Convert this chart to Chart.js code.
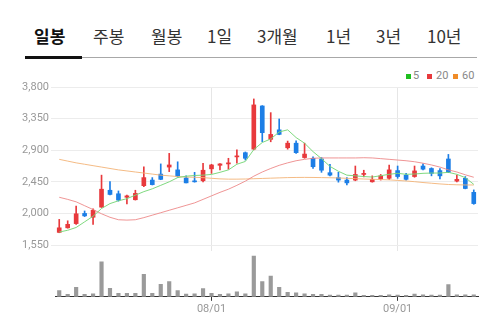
<!DOCTYPE html>
<html lang="ko">
<head>
<meta charset="utf-8">
<script src="https://cdn.jsdelivr.net/npm/chart.js@4.4.0/dist/chart.umd.min.js"></script>
<style>
  body { margin: 0; background: #fff; }
  #wrap { position: relative; width: 500px; height: 318px; overflow: hidden; font-family: 'Noto Sans CJK KR', 'Noto Sans', sans-serif; }
  .tab { position: absolute; top: 25px; font-size: 17px; line-height: 22px; color: #333; white-space: nowrap; }
  .tab.on { font-weight: bold; color: #111; }
  #tabLine { position: absolute; left: 25px; top: 57px; width: 452px; height: 1px; background: #a8a8a8; }
  #tabOn { position: absolute; left: 25px; top: 56px; width: 57px; height: 3px; background: #111; }
  .lg { position: absolute; top: 69px; font-size: 11px; line-height: 14px; color: #888; font-family: Roboto, 'Noto Sans', sans-serif; }
  .sq { position: absolute; top: 74px; width: 5px; height: 5px; }
  #priceChart { position: absolute; left: 0; top: 78px; }
  #volChart { position: absolute; left: 0; top: 250px; }
</style>
</head>
<body>
<div id="wrap">
  <div class="tab on" style="left:34px">일봉</div>
  <div class="tab" style="left:93px">주봉</div>
  <div class="tab" style="left:151px">월봉</div>
  <div class="tab" style="left:207px">1일</div>
  <div class="tab" style="left:257px">3개월</div>
  <div class="tab" style="left:326px">1년</div>
  <div class="tab" style="left:376px">3년</div>
  <div class="tab" style="left:427px">10년</div>
  <div id="tabLine"></div>
  <div id="tabOn"></div>

  <div class="sq" style="left:406px;background:#1fbf1f"></div><div class="lg" style="left:413px">5</div>
  <div class="sq" style="left:427px;background:#e8393c"></div><div class="lg" style="left:436px">20</div>
  <div class="sq" style="left:453px;background:#f08c28"></div><div class="lg" style="left:462px">60</div>

  <canvas id="priceChart" width="500" height="173"></canvas>
  <canvas id="volChart" width="500" height="68"></canvas>
</div>
<script>
// trading days (MM/DD)
const dates = ['07/06','07/07','07/10','07/11','07/12','07/13','07/14','07/17','07/18','07/19',
  '07/20','07/21','07/24','07/25','07/26','07/27','07/28','07/31','08/01','08/02',
  '08/03','08/04','08/07','08/08','08/09','08/10','08/11','08/14','08/16','08/17',
  '08/18','08/21','08/22','08/23','08/24','08/25','08/28','08/29','08/30','08/31',
  '09/01','09/04','09/05','09/06','09/07','09/08','09/11','09/12','09/13','09/14'];

const opens = [1730,1795,1855,2000,1945,2090,2330,2280,2230,2195,
  2395,2475,2560,2660,2620,2505,2460,2465,2635,2685,
  2705,2805,2865,2915,3530,3055,3190,2935,3000,2795,
  2785,2775,2580,2510,2475,2475,2555,2450,2490,2500,
  2610,2545,2525,2675,2640,2610,2775,2460,2500,2300];
const highs = [1915,1895,2105,2035,2065,2545,2455,2320,2260,2330,
  2665,2510,2705,2855,2735,2535,2585,2715,2700,2710,
  2785,2905,2875,3630,3535,3435,3345,3030,3035,3000,
  2805,2795,2700,2585,2510,2675,2615,2535,2555,2690,
  2675,2570,2675,2705,2650,2640,2840,2545,2525,2335];
const lows = [1725,1790,1845,1955,1845,2085,2265,2175,2135,2190,
  2380,2405,2480,2595,2515,2435,2445,2450,2570,2620,
  2630,2715,2760,2905,3020,3020,3120,2915,2855,2785,
  2640,2585,2535,2445,2405,2465,2520,2445,2475,2485,
  2500,2475,2515,2620,2535,2490,2580,2450,2350,2130];
const closes = [1795,1845,1995,1965,2045,2345,2270,2190,2250,2285,
  2510,2410,2485,2690,2530,2435,2450,2615,2690,2705,
  2720,2815,2785,3545,3150,3125,3125,3000,2865,2845,
  2665,2615,2545,2475,2435,2555,2570,2485,2535,2620,
  2525,2485,2605,2630,2570,2535,2585,2485,2355,2140];

// moving averages
const ma5 = [1735,1760,1800,1880,1960,2070,2140,2180,2210,2260,
  2310,2350,2400,2450,2510,2530,2540,2545,2555,2585,
  2620,2700,2740,2910,3010,3060,3160,3190,3080,3000,
  2880,2780,2670,2600,2545,2535,2525,2518,2537,2557,
  2571,2557,2561,2571,2575,2575,2585,2557,2509,2414];
const ma20 = [2230,2200,2165,2110,2055,1995,1945,1910,1905,1910,
  1940,1975,2010,2045,2080,2115,2150,2200,2250,2300,
  2345,2400,2460,2530,2590,2640,2685,2720,2750,2770,
  2785,2790,2790,2790,2790,2790,2793,2790,2780,2770,
  2760,2750,2736,2715,2690,2660,2620,2590,2550,2515];
const ma60 = [2770,2745,2720,2700,2680,2660,2640,2620,2605,2590,
  2575,2560,2545,2535,2525,2518,2514,2510,2500,2492,
  2488,2488,2490,2494,2498,2502,2506,2510,2512,2513,
  2512,2510,2508,2505,2500,2495,2490,2486,2482,2478,
  2470,2462,2452,2440,2430,2420,2412,2408,2405,2405];

const volumes = [18000,7000,28000,7000,9000,103000,25000,10000,10000,10000,
  66000,10000,37000,45000,18000,8000,9000,24000,10000,7000,
  9000,15000,9000,120000,45000,61000,28000,13000,12000,9000,
  7000,7000,5000,5000,5000,12000,4000,4000,4000,6000,
  5000,4000,8000,6000,5000,5000,36000,6000,6000,6000];

const yTicks = [1550, 2000, 2450, 2900, 3350, 3800];
const monthTicks = ['08/01', '09/01'];

const UP = '#e8393c';
const DOWN = '#1c7ee6';
const FONT = "Roboto, 'Noto Sans', sans-serif";

const candleColors = closes.map((c, i) => (c >= opens[i] ? UP : DOWN));
const bodies = opens.map((o, i) => [o, closes[i]]);
const wicks = lows.map((l, i) => [l, highs[i]]);
const tickIdx = monthTicks.map((t) => dates.indexOf(t));

const monthTickBuilder = (scale) => {
    scale.ticks = tickIdx.map((v) => ({ value: v }));
};

new Chart(document.getElementById('priceChart'), {
    type: 'bar',
    data: {
        labels: dates,
        datasets: [
            { type: 'line', label: '5', data: ma5, borderColor: 'rgba(120,215,120,0.95)', borderWidth: 1, pointRadius: 0, tension: 0, order: 0 },
            { type: 'line', label: '20', data: ma20, borderColor: 'rgba(236,130,130,0.85)', borderWidth: 1, pointRadius: 0, tension: 0, order: 0 },
            { type: 'line', label: '60', data: ma60, borderColor: 'rgba(243,180,120,0.9)', borderWidth: 1, pointRadius: 0, tension: 0, order: 0 },
            { label: 'wick', data: wicks, backgroundColor: candleColors, barThickness: 1, grouped: false, order: 2 },
            { label: 'body', data: bodies, backgroundColor: candleColors, barThickness: 4, grouped: false, minBarLength: 1, order: 1 },
        ],
    },
    options: {
        responsive: false,
        animation: false,
        layout: { padding: { top: 9, right: 22, bottom: 0 } },
        plugins: { legend: { display: false }, tooltip: { enabled: false } },
        scales: {
            x: {
                offset: true,
                afterBuildTicks: monthTickBuilder,
                afterFit: (scale) => {
                    scale.height = 0;
                },
                grid: { offset: false, color: '#e6e6e6', drawTicks: false },
                border: { color: '#333' },
                ticks: { display: false, autoSkip: false },
            },
            y: {
                min: 1465,
                max: 3800,
                afterBuildTicks: (scale) => {
                    scale.ticks = yTicks.map((v) => ({ value: v }));
                },
                afterFit: (scale) => {
                    scale.width = 55;
                    scale.paddingTop = 0;
                    scale.paddingBottom = 0;
                },
                grid: { color: '#ececec', tickLength: 4 },
                border: { display: false },
                ticks: {
                    padding: 2,
                    color: '#999',
                    font: { size: 11, family: FONT },
                    callback: (v) => v.toLocaleString('en-US'),
                },
            },
        },
    },
});

new Chart(document.getElementById('volChart'), {
    type: 'bar',
    data: {
        labels: dates,
        datasets: [{ data: volumes, backgroundColor: '#9a9a9a', barThickness: 3.5 }],
    },
    options: {
        responsive: false,
        animation: false,
        layout: { padding: { left: 55, right: 22, top: 3 } },
        plugins: { legend: { display: false }, tooltip: { enabled: false } },
        scales: {
            x: {
                offset: true,
                afterBuildTicks: monthTickBuilder,
                grid: { offset: false, drawOnChartArea: false, tickLength: 4, color: '#333' },
                border: { color: '#333' },
                ticks: {
                    autoSkip: false,
                    maxRotation: 0,
                    padding: 2,
                    color: '#999',
                    font: { size: 11, family: FONT },
                    callback: (v) => dates[v],
                },
            },
            y: { display: false, min: 0, max: 129000 },
        },
    },
});
</script>
</body>
</html>
